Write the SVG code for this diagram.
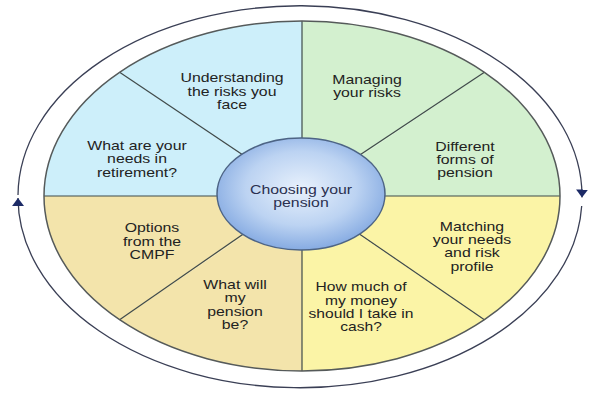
<svg xmlns="http://www.w3.org/2000/svg" width="600" height="400" viewBox="0 0 600 400">
<defs>
<radialGradient id="hub" cx="50%" cy="45%" r="55%">
<stop offset="0" stop-color="#e8f1fc"/>
<stop offset="0.6" stop-color="#bcd3f2"/>
<stop offset="1" stop-color="#86abe2"/>
</radialGradient>
<marker id="arr" viewBox="0 0 8 12" refX="8" refY="6" markerWidth="8" markerHeight="12" markerUnits="userSpaceOnUse" orient="auto">
<path d="M0,0 L8,6 L0,12 z" fill="#1c2a66"/>
</marker>
<style>
.seg{stroke:none}
.div{stroke:#3f4a4a;stroke-width:1.2;fill:none}
.lbl{font-family:"Liberation Sans",Arial,sans-serif;font-size:12px;fill:#222;text-anchor:middle}
.arc{fill:none;stroke:#3a3f55;stroke-width:1.3;marker-end:url(#arr)}
</style>
</defs>
<rect width="600" height="400" fill="#fff"/>

<g id="seg-understanding">
<path class="seg" fill="#cdeffa" d="M302,196 L119.6,72.3 A258 175 0 0 1 302,21 Z"/>
<text class="lbl" transform="translate(232 0) scale(1.32 1)"><tspan x="0" y="82">Understanding</tspan><tspan x="0" y="96">the risks you</tspan><tspan x="0" y="109">face</tspan></text>
</g>
<g id="seg-needs">
<path class="seg" fill="#cdeffa" d="M302,196 L44,196 A258 175 0 0 1 119.6,72.3 Z"/>
<text class="lbl" transform="translate(137 0) scale(1.32 1)"><tspan x="0" y="150">What are your</tspan><tspan x="0" y="163">needs in</tspan><tspan x="0" y="177">retirement?</tspan></text>
</g>
<g id="seg-managing">
<path class="seg" fill="#d3f0cf" d="M302,196 L302,21 A258 175 0 0 1 484.4,72.3 Z"/>
<text class="lbl" transform="translate(367 0) scale(1.32 1)"><tspan x="0" y="84">Managing</tspan><tspan x="0" y="97">your risks</tspan></text>
</g>
<g id="seg-forms">
<path class="seg" fill="#d3f0cf" d="M302,196 L484.4,72.3 A258 175 0 0 1 560,196 Z"/>
<text class="lbl" transform="translate(465 0) scale(1.32 1)"><tspan x="0" y="151">Different</tspan><tspan x="0" y="164">forms of</tspan><tspan x="0" y="177">pension</tspan></text>
</g>
<g id="seg-matching">
<path class="seg" fill="#fbf4a6" d="M302,196 L560,196 A258 175 0 0 1 484.4,319.7 Z"/>
<text class="lbl" transform="translate(472 0) scale(1.32 1)"><tspan x="0" y="231">Matching</tspan><tspan x="0" y="244">your needs</tspan><tspan x="0" y="257">and risk</tspan><tspan x="0" y="271">profile</tspan></text>
</g>
<g id="seg-cash">
<path class="seg" fill="#fbf4a6" d="M302,196 L484.4,319.7 A258 175 0 0 1 302,371 Z"/>
<text class="lbl" transform="translate(361 0) scale(1.3 1)"><tspan x="0" y="291">How much of</tspan><tspan x="0" y="305">my money</tspan><tspan x="0" y="318">should I take in</tspan><tspan x="0" y="331">cash?</tspan></text>
</g>
<g id="seg-whatwill">
<path class="seg" fill="#f3e4ab" d="M302,196 L302,371 A258 175 0 0 1 119.6,319.7 Z"/>
<text class="lbl" transform="translate(235 0) scale(1.32 1)"><tspan x="0" y="289">What will</tspan><tspan x="0" y="302">my</tspan><tspan x="0" y="316">pension</tspan><tspan x="0" y="329">be?</tspan></text>
</g>
<g id="seg-options">
<path class="seg" fill="#f3e4ab" d="M302,196 L119.6,319.7 A258 175 0 0 1 44,196 Z"/>
<text class="lbl" transform="translate(152 0) scale(1.32 1)"><tspan x="0" y="232">Options</tspan><tspan x="0" y="246">from the</tspan><tspan x="0" y="259">CMPF</tspan></text>
</g>

<g id="dividers">
<line class="div" x1="44" y1="196" x2="560" y2="196"/>
<line class="div" x1="302" y1="21" x2="302" y2="371"/>
<line class="div" x1="119.6" y1="72.3" x2="301" y2="194"/>
<line class="div" x1="484.4" y1="72.3" x2="301" y2="194"/>
<line class="div" x1="119.6" y1="319.7" x2="301" y2="194"/>
<line class="div" x1="484.4" y1="319.7" x2="301" y2="194"/>
<ellipse cx="302" cy="196" rx="258" ry="175" fill="none" stroke="#555a5a" stroke-width="1.5"/>
</g>

<g id="hub-node">
<ellipse cx="301" cy="194" rx="84" ry="56" fill="url(#hub)" stroke="#4d6485" stroke-width="1.5"/>
<text class="lbl" style="fill:#2a3050" transform="translate(301 0) scale(1.32 1)"><tspan x="0" y="194">Choosing your</tspan><tspan x="0" y="207">pension</tspan></text>
</g>

<g id="connectors">
<path class="arc" d="M18,195 A282 190.5 0 0 1 582,197.5"/>
<path class="arc" d="M581.7,206 A282 190.5 0 0 1 18,198"/>
</g>
</svg>
